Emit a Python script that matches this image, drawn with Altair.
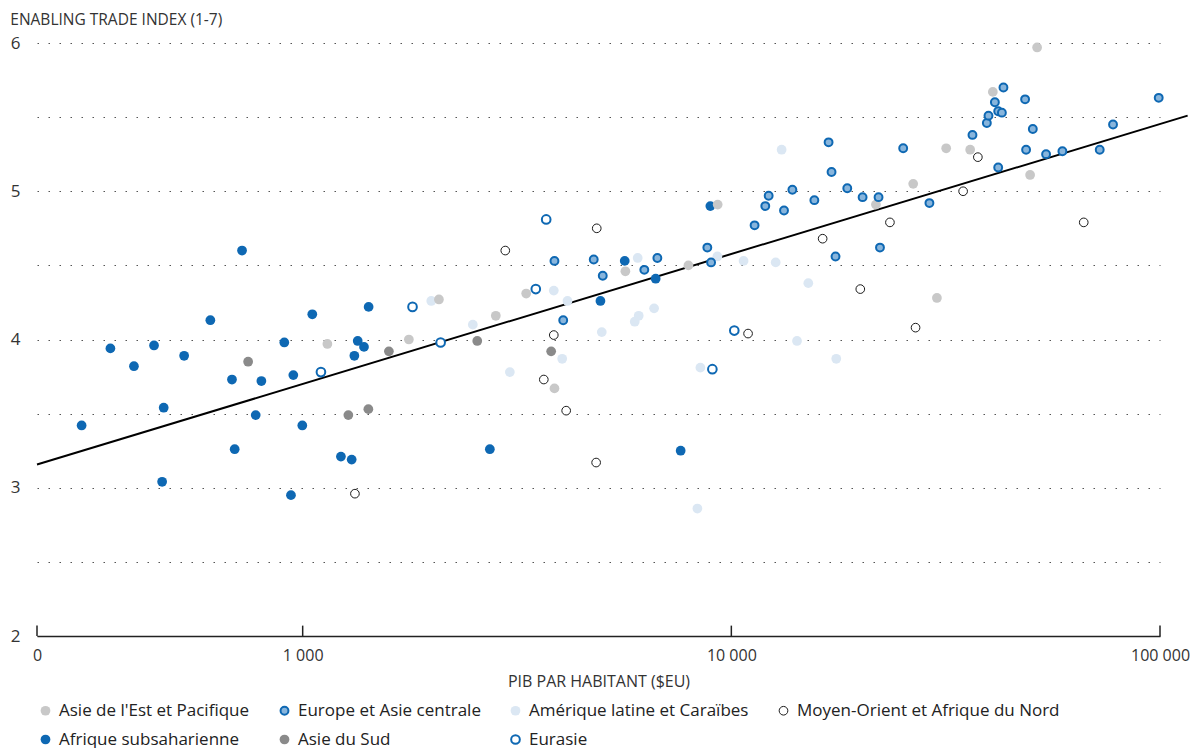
import altair as alt
import pandas as pd

FONT = "Open Sans"

regions = [
    "Asie de l'Est et Pacifique",
    "Europe et Asie centrale",
    "Amérique latine et Caraïbes",
    "Moyen-Orient et Afrique du Nord",
    "Afrique subsaharienne",
    "Asie du Sud",
    "Eurasie",
]
fill_colors = ["#c8c8c8", "#88b5dc", "#dbe7f3", "#ffffff", "#0e68b3", "#8a8a8a", "#ffffff"]
stroke_colors = ["#c8c8c8", "#0e68b3", "#dbe7f3", "#1a1a1a", "#0e68b3", "#8a8a8a", "#0e68b3"]
stroke_widths = [0, 2, 0, 1, 0, 0, 2]
sizes = [95, 62, 95, 75, 95, 95, 75]

# Afrique subsaharienne
afr_gdp = [305, 356, 404, 450, 474, 470, 529, 609, 684, 694, 722, 777, 801, 906, 951, 939,
           998, 1053, 1228, 1301, 1320, 1344, 1390, 1425, 2733, 4950, 5640, 6660, 7617, 8933]
afr_eti = [3.42, 3.94, 3.82, 3.96, 3.54, 3.04, 3.89, 4.13, 3.73, 3.26, 4.60, 3.49, 3.72, 3.98,
           3.76, 2.95, 3.42, 4.17, 3.21, 3.19, 3.89, 3.99, 3.95, 4.22, 3.26, 4.26, 4.53, 4.41,
           3.25, 4.90]

# Amérique latine et Caraïbes
lat_gdp = [1995, 2494, 3043, 3853, 4147, 4031, 4986, 6047, 6604, 6080, 5952, 8468, 8333,
           9277, 10680, 12690, 13100, 14230, 15120, 17570]
lat_eti = [4.26, 4.10, 3.78, 4.33, 4.26, 3.87, 4.05, 4.55, 4.21, 4.16, 4.12, 3.81, 2.86,
           4.56, 4.53, 4.52, 5.28, 3.99, 4.38, 3.87]

# Asie du Sud
sud_gdp = [746, 1278, 1423, 1589, 2554, 3799]
sud_eti = [3.85, 3.49, 3.53, 3.92, 3.99, 3.92]

# Asie de l'Est et Pacifique
est_gdp = [1142, 1769, 2079, 2822, 3322, 3867, 5660, 7940, 9292, 21740, 26560, 30170,
           31710, 36070, 40740, 49770, 51680]
est_eti = [3.97, 4.00, 4.27, 4.16, 4.31, 3.67, 4.46, 4.50, 4.91, 4.91, 5.05, 4.28,
           5.29, 5.28, 5.67, 5.11, 5.97]

# Europe et Asie centrale
eur_gdp = [3867, 4053, 4775, 5012, 6266, 6721, 8790, 8969, 11330, 12000, 12220, 13270,
           13880, 15620, 16860, 17130, 18640, 17500, 20240, 22050, 22220, 25170, 28980,
           36520, 39450, 39800, 41190, 41930, 42770, 43130, 41930, 48450, 50500, 48710,
           54230, 59200, 72340, 77700, 99310]
eur_eti = [4.53, 4.13, 4.54, 4.43, 4.47, 4.55, 4.62, 4.52, 4.77, 4.90, 4.97, 4.87,
           5.01, 4.94, 5.33, 5.13, 5.02, 4.56, 4.96, 4.96, 4.62, 5.29, 4.92,
           5.38, 5.46, 5.51, 5.60, 5.54, 5.53, 5.70, 5.16, 5.62, 5.42, 5.28,
           5.25, 5.27, 5.28, 5.45, 5.63]

# Eurasie
eura_gdp = [1103, 1804, 2098, 3498, 3699, 9031, 10160]
eura_eti = [3.78, 4.22, 3.98, 4.34, 4.81, 3.80, 4.06]

# Moyen-Orient et Afrique du Nord
mena_gdp = [1324, 2969, 3853, 3652, 4118, 4837, 4853, 10940, 16330, 19990, 23440, 26900,
            34730, 37590, 66390]
mena_eti = [2.96, 4.60, 4.03, 3.73, 3.52, 3.17, 4.75, 4.04, 4.68, 4.34, 4.79, 4.08,
            5.00, 5.23, 4.79]

# trend line end points
trend_gdp = [240, 116000]
trend_eti = [3.157, 5.510]

# axes
x_tick_values = [240, 1000, 10000, 100000]
x_tick_labels = ["0", "1 000", "10 000", "100 000"]
y_values = [2, 2.5, 3, 3.5, 4, 4.5, 5, 5.5, 6]

groups = [
    ("Afrique subsaharienne", afr_gdp, afr_eti),
    ("Amérique latine et Caraïbes", lat_gdp, lat_eti),
    ("Asie du Sud", sud_gdp, sud_eti),
    ("Asie de l'Est et Pacifique", est_gdp, est_eti),
    ("Europe et Asie centrale", eur_gdp, eur_eti),
    ("Eurasie", eura_gdp, eura_eti),
    ("Moyen-Orient et Afrique du Nord", mena_gdp, mena_eti),
]
rows = []
order = 0
for name, g, e in groups:
    for gv, ev in zip(g, e):
        rows.append({"region": name, "gdp": gv, "eti": ev, "order": order})
        order += 1
df = pd.DataFrame(rows)

trend_df = pd.DataFrame({"gdp": trend_gdp, "eti": trend_eti})
tick_df = pd.DataFrame({"gdp": x_tick_values, "y0": [2.0] * 4, "y1": [2.07] * 4})

label_expr = "''"
for v, lab in reversed(list(zip(x_tick_values, x_tick_labels))):
    label_expr = f"datum.value == {v} ? '{lab}' : ({label_expr})"

xscale = alt.Scale(type="log", domain=[240, 100000], nice=False)
yscale = alt.Scale(domain=[2, 6], nice=False, zero=False)

x_axis = alt.Axis(
    values=x_tick_values, labelExpr=label_expr, title="PIB PAR HABITANT ($EU)",
    ticks=False, grid=False, domainColor="#222222", domainWidth=1.5,
    labelFontSize=16, labelColor="#333333", labelFont=FONT, labelPadding=11,
    titleFont=FONT, titleFontSize=16, titleFontWeight="normal", titleColor="#333333",
    titlePadding=10, labelFlush=False,
)
y_axis = alt.Axis(
    values=y_values,
    labelExpr="datum.value % 1 == 0 ? format(datum.value, 'd') : ''",
    grid=True, gridDash=[1.5, 9.5], gridColor="#555555", gridWidth=1.2,
    domain=False, ticks=False, title=None, labelPadding=17, labelFontSize=17,
    labelFont=FONT, labelColor="#333333",
)

line = alt.Chart(trend_df).mark_line(color="black", strokeWidth=2, clip=False).encode(
    x=alt.X("gdp:Q", scale=xscale, axis=x_axis),
    y=alt.Y("eti:Q", scale=yscale, axis=y_axis),
)

ticks = alt.Chart(tick_df).mark_rule(color="#222222", strokeWidth=1.5).encode(
    x=alt.X("gdp:Q", scale=xscale),
    y=alt.Y("y0:Q", scale=yscale),
    y2="y1:Q",
)

points = alt.Chart(df).mark_point(shape="circle", filled=False, opacity=1).encode(
    x=alt.X("gdp:Q", scale=xscale),
    y=alt.Y("eti:Q", scale=yscale),
    fill=alt.Fill("region:N", scale=alt.Scale(domain=regions, range=fill_colors),
                  legend=alt.Legend(title=None)),
    stroke=alt.Stroke("region:N", scale=alt.Scale(domain=regions, range=stroke_colors),
                      legend=alt.Legend(title=None)),
    strokeWidth=alt.StrokeWidth("region:N",
                                scale=alt.Scale(type="ordinal", domain=regions, range=stroke_widths),
                                legend=alt.Legend(title=None)),
    size=alt.Size("region:N", scale=alt.Scale(type="ordinal", domain=regions, range=sizes),
                  legend=alt.Legend(title=None)),
    order=alt.Order("order:Q"),
)

chart = alt.layer(line, ticks, points).properties(
    width=1123, height=593,
    padding={"left": 2, "top": 4, "right": 0, "bottom": 0},
    title=alt.Title("ENABLING TRADE INDEX (1-7)", anchor="start", frame="bounds",
                    fontSize=15.5, fontWeight="normal", color="#333333", font=FONT, offset=6),
).configure_view(stroke=None).configure_legend(
    orient="bottom", columns=4, labelFontSize=17, labelFont=FONT, labelColor="#222222",
    columnPadding=26, rowPadding=11, labelOffset=5, offset=13, padding=0, labelLimit=400,
    symbolType="circle", symbolOpacity=1,
)

chart.save("out.html", embed_options={"renderer": "svg", "actions": False})
